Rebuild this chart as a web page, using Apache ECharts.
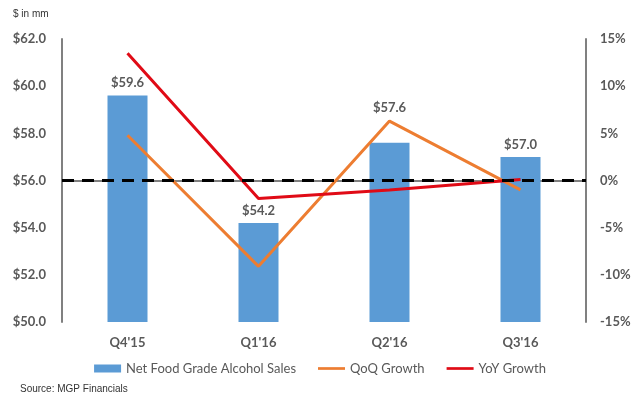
<!DOCTYPE html>
<html>
<head>
<meta charset="utf-8">
<script src="https://cdn.jsdelivr.net/npm/echarts@6/dist/echarts.min.js"></script>
<style>
  html, body { margin: 0; padding: 0; background: #fff; }
  #chart { width: 640px; height: 398px; }
</style>
</head>
<body>
<div id="chart"></div>
<script>
// 数据
const quarters = ["Q4'15", "Q1'16", "Q2'16", "Q3'16"];
const sales = [59.6, 54.2, 57.6, 57.0];
const qoqGrowth = [4.8, -9.1, 6.3, -1.0];
const yoyGrowth = [13.5, -1.9, -1.0, 0.1];

const axisColor = '#808080';
const textColor = '#595959';
const font = 'Lato, "Open Sans", sans-serif';
const lineIcon = 'path://M0,0 L25,0 L25,2.5 L0,2.5 Z';

const chart = echarts.init(document.getElementById('chart'));

// Q2 的数据标签被折线挡住，原图把它往上挪了
const barData = sales.map((v, i) => i === 2
    ? { value: v, label: { offset: [0, -22] } }
    : v);

chart.setOption({
    animation: false,
    textStyle: { fontFamily: font },
    grid: { left: 62, right: 54, top: 39, bottom: 76 },
    title: [
        { text: '$ in mm', left: 8, top: 4, textStyle: { fontSize: 10, fontWeight: 'normal', color: '#333', fontFamily: 'Liberation Sans, Arial' } },
        { text: 'Source: MGP Financials', left: 15, top: 379, textStyle: { fontSize: 10, fontWeight: 'normal', color: '#333', fontFamily: 'Liberation Sans, Arial' } }
    ],
    legend: {
        bottom: 18,
        left: 'center',
        itemGap: 22,
        itemWidth: 27,
        itemHeight: 8,
        textStyle: { color: textColor, fontSize: 13, fontFamily: font },
        data: [
            { name: 'Net Food Grade Alcohol Sales', icon: 'rect' },
            { name: 'QoQ Growth', icon: lineIcon },
            { name: 'YoY Growth', icon: lineIcon }
        ]
    },
    xAxis: {
        type: 'category',
        data: quarters,
        axisLine: { lineStyle: { color: axisColor, width: 2 } },
        axisTick: { show: false },
        axisLabel: { color: textColor, fontSize: 13, fontWeight: 'bold', margin: 14 }
    },
    yAxis: [
        {
            type: 'value',
            min: 50, max: 62, interval: 2,
            axisLine: { show: true, lineStyle: { color: axisColor, width: 2 } },
            splitLine: { show: false },
            axisLabel: {
                color: textColor, fontSize: 13, fontWeight: 'bold', margin: 16,
                formatter: v => '$' + v.toFixed(1)
            }
        },
        {
            type: 'value',
            min: -15, max: 15, interval: 5,
            axisLine: { show: true, lineStyle: { color: axisColor, width: 2 } },
            splitLine: { show: false },
            axisLabel: {
                color: textColor, fontSize: 13, fontWeight: 'bold', margin: 14,
                formatter: v => v + '%'
            }
        }
    ],
    series: [
        {
            name: 'Net Food Grade Alcohol Sales',
            type: 'bar',
            data: barData,
            barWidth: 40,
            itemStyle: { color: '#5B9BD5' },
            label: {
                show: true, position: 'top', distance: 6,
                color: textColor, fontSize: 13, fontWeight: 'bold',
                formatter: p => '$' + p.value.toFixed(1)
            }
        },
        {
            name: 'QoQ Growth',
            type: 'line',
            yAxisIndex: 1,
            data: qoqGrowth,
            symbol: 'none',
            itemStyle: { color: '#ED7D31' },
            lineStyle: { color: '#ED7D31', width: 3 }
        },
        {
            name: 'YoY Growth',
            type: 'line',
            yAxisIndex: 1,
            data: yoyGrowth,
            symbol: 'none',
            z: 3,
            itemStyle: { color: '#E00B16' },
            lineStyle: { color: '#E00B16', width: 3 },
            markLine: {
                silent: true,
                symbol: 'none',
                label: { show: false },
                lineStyle: { color: '#000', width: 3, type: [12, 8] },
                data: [{ yAxis: 0 }]
            }
        }
    ]
});
</script>
</body>
</html>
